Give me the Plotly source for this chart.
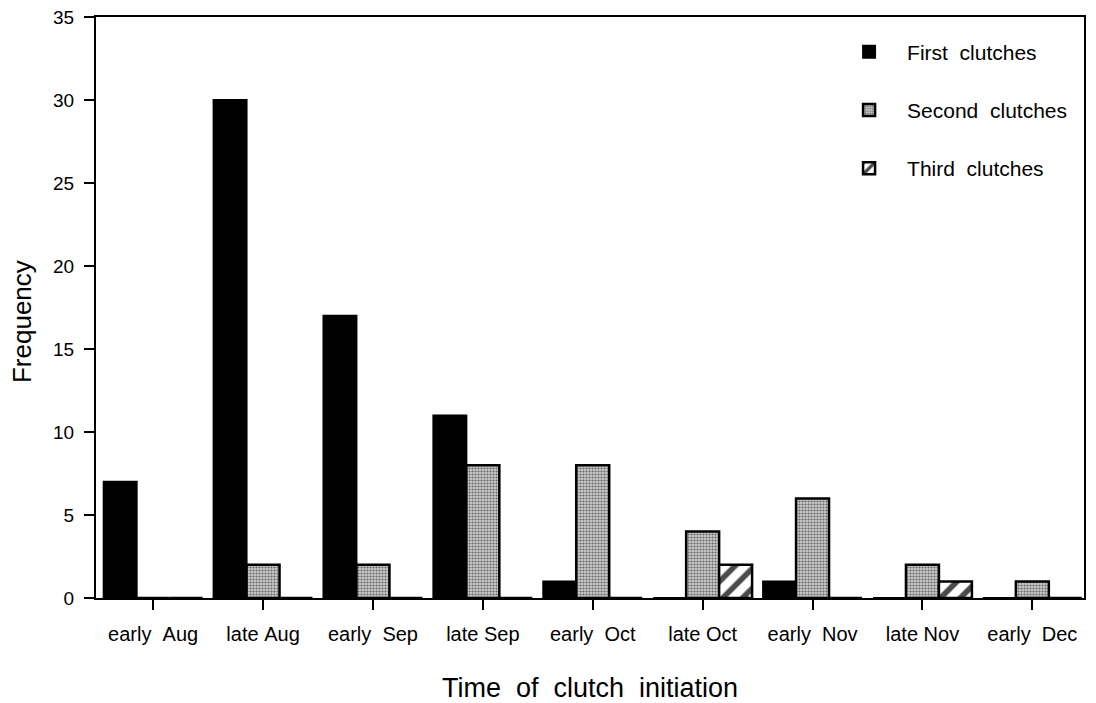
import plotly.graph_objects as go

# Clutch initiation periods and counts per clutch order
periods = ["early\u00a0\u00a0Aug", "late\u00a0Aug", "early\u00a0\u00a0Sep", "late\u00a0Sep",
           "early\u00a0\u00a0Oct", "late\u00a0Oct", "early\u00a0\u00a0Nov", "late\u00a0Nov",
           "early\u00a0\u00a0Dec"]
first_clutches = [7, 30, 17, 11, 1, 0, 1, 0, 0]
second_clutches = [0, 2, 2, 8, 8, 4, 6, 2, 1]
third_clutches = [0, 0, 0, 0, 0, 2, 0, 1, 0]

FONT = "Liberation Sans, Arial, Helvetica, sans-serif"

fig = go.Figure()

fig.add_trace(go.Bar(
    x=periods, y=first_clutches, name="First\u00a0\u00a0clutches",
    legendgroup="a",
    marker=dict(color="black", line=dict(color="black", width=2)),
))
fig.add_trace(go.Bar(
    x=periods, y=second_clutches, name="Second\u00a0\u00a0clutches",
    legendgroup="b",
    marker=dict(
        color="#c4c4c4",
        line=dict(color="black", width=2.5),
        pattern=dict(shape=".", bgcolor="#cbcbcb", fgcolor="#666666",
                     size=3, solidity=0.38, fillmode="replace"),
    ),
))
fig.add_trace(go.Bar(
    x=periods, y=third_clutches, name="Third\u00a0\u00a0clutches",
    legendgroup="c",
    marker=dict(
        color="white",
        line=dict(color="black", width=2.5),
        pattern=dict(shape="/", bgcolor="white", fgcolor="#4a4a4a",
                     size=14, solidity=0.4, fillmode="replace"),
    ),
))

fig.update_layout(
    width=1096, height=703,
    margin=dict(l=96, r=12, t=17, b=105, autoexpand=False),
    paper_bgcolor="white", plot_bgcolor="white",
    font=dict(family=FONT, color="black", size=20),
    barmode="group", bargap=0.1, bargroupgap=0,
    showlegend=True,
    legend=dict(
        x=0.744, y=0.975, xanchor="left", yanchor="top",
        traceorder="grouped", tracegroupgap=28,
        font=dict(size=21, family=FONT),
        bgcolor="rgba(0,0,0,0)", itemwidth=66,
    ),
    annotations=[dict(
        text="Frequency", textangle=-90, showarrow=False,
        xref="paper", yref="paper", x=0, y=0.475,
        xanchor="center", yanchor="middle", xshift=-74,
        font=dict(size=26, family=FONT, color="black"),
    )],
)

fig.update_xaxes(
    range=[-0.52, 8.47], automargin=False,
    showline=True, linecolor="black", linewidth=2, mirror=True,
    ticks="outside", ticklen=10, tickwidth=2, tickcolor="black",
    ticklabelstandoff=7,
    tickfont=dict(size=20, family=FONT),
    showgrid=False, zeroline=False,
    title=dict(text="Time\u00a0\u00a0of\u00a0\u00a0clutch\u00a0\u00a0initiation",
               font=dict(size=27, family=FONT), standoff=38),
)
fig.update_yaxes(
    range=[0, 35], dtick=5, tick0=0, automargin=False,
    showline=True, linecolor="black", linewidth=2, mirror=True,
    ticks="outside", ticklen=10, tickwidth=2, tickcolor="black",
    ticklabelstandoff=6,
    tickfont=dict(size=19, family=FONT),
    showgrid=False, zeroline=False,
)

fig.write_html("out.html")
